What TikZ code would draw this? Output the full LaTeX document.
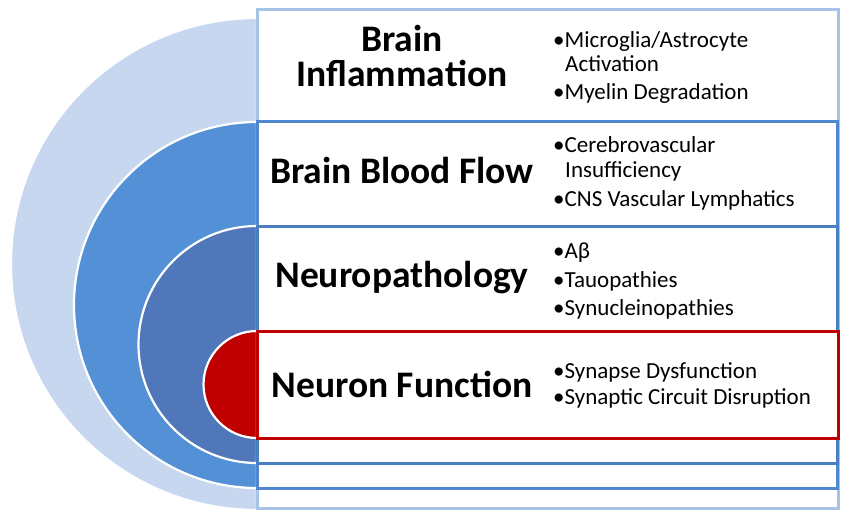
\documentclass[tikz,border=0pt]{standalone}
\usepackage{fontspec}
\setmainfont{Carlito}
\definecolor{lbfill}{HTML}{C6D7EF}
\definecolor{lbline}{HTML}{A6C2E7}
\definecolor{mbfill}{HTML}{5490D5}
\definecolor{mbline}{HTML}{4F88CC}
\definecolor{dbfill}{HTML}{4F77B9}
\definecolor{dbline}{HTML}{4A7EC2}
\definecolor{rdfill}{HTML}{C00000}
\tikzset{
  disc/.style={draw=white, line width=2.2pt},
  box/.style={fill=white, line width=3pt},
  title/.style={anchor=base, font=\fontsize{37.5}{44}\selectfont\bfseries, inner sep=0pt},
  item/.style={anchor=base west, font=\fontsize{23}{27}\selectfont, inner sep=0pt}
}
\begin{document}
\begin{tikzpicture}[x=1pt,y=1pt]
\useasboundingbox (0,0) rectangle (850,520);
\fill[white] (0,0) rectangle (850,520);
% level 1
\filldraw[disc, fill=lbfill] (257,502) arc[start angle=90, end angle=270, radius=246] -- cycle;
\draw[box, draw=lbline] (257,510) rectangle (838,12);
% level 2
\filldraw[disc, fill=mbfill] (257,398) arc[start angle=90, end angle=270, radius=183] -- cycle;
\draw[box, draw=mbline] (257,398) rectangle (837,32);
% level 3
\filldraw[disc, fill=dbfill] (257,294) arc[start angle=90, end angle=270, radius=118.5] -- cycle;
\draw[box, draw=dbline] (257,294) rectangle (837,57);
% level 4
\filldraw[disc, fill=rdfill] (257,189) arc[start angle=90, end angle=270, radius=53.5] -- cycle;
\draw[box, draw=rdfill] (257,189) rectangle (838,82);
% titles
\node[title] (t1a) at (402,468) {Brain};
\node[title] (t1b) at (402,433) {Inflammation};
\node[title] (t2) at (402,336) {Brain Blood Flow};
\node[title] (t3) at (402,233) {Neuropathology};
\node[title] (t4) at (402,123) {Neuron Function};
% items
\node[item] (i1a) at (553,472) {•Microglia/Astrocyte};
\node[item] (i1b) at (565,448) {Activation};
\node[item] (i1c) at (553,420) {•Myelin Degradation};
\node[item] (i2a) at (553,367) {•Cerebrovascular};
\node[item] (i2b) at (565,342) {Insufficiency};
\node[item] (i2c) at (553,313) {•CNS Vascular Lymphatics};
\node[item] (i3a) at (553,262) {•Aβ};
\node[item] (i3b) at (553,233) {•Tauopathies};
\node[item] (i3c) at (553,205) {•Synucleinopathies};
\node[item] (i4a) at (553,142) {•Synapse Dysfunction};
\node[item] (i4b) at (553,116) {•Synaptic Circuit Disruption};
\end{tikzpicture}
\end{document}
